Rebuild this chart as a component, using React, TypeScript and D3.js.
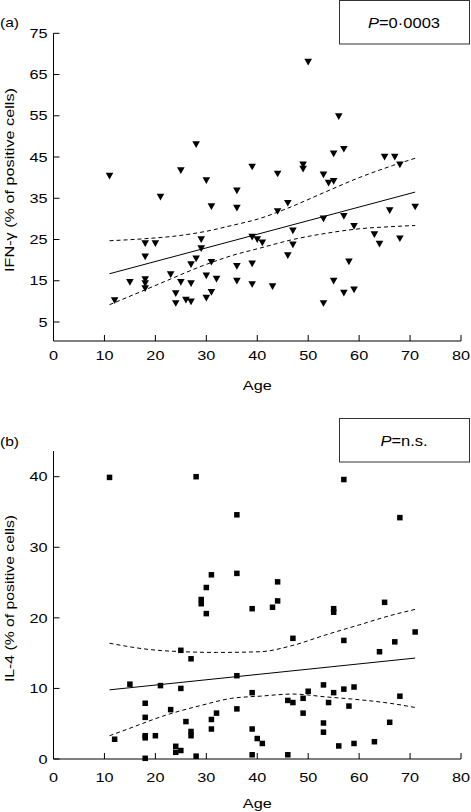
import React from "react";
import * as d3 from "d3";

// ---- Data ----
const xTicks = [0, 10, 20, 30, 40, 50, 60, 70, 80];
const ifnTicks = [5, 15, 25, 35, 45, 55, 65, 75];
const il4Ticks = [0, 10, 20, 30, 40];

// Panel (a): IFN-γ vs age
const ifnAge = [11, 12, 15, 18, 18, 18, 18, 18, 20, 21, 23, 24, 24, 25, 25, 26, 27, 27, 27, 28, 28, 29, 29, 30, 30, 30, 31, 31, 31, 32, 36, 36, 36, 36, 39, 39, 39, 39, 40, 41, 43, 44, 44, 46, 46, 47, 47, 49, 49, 50, 53, 53, 53, 54, 55, 55, 55, 56, 57, 57, 57, 58, 59, 59, 63, 64, 65, 66, 67, 68, 68, 71];
const ifnVal = [40.4, 10.2, 14.6, 24.0, 20.8, 15.3, 14.3, 13.1, 24.0, 35.3, 16.5, 11.9, 9.5, 41.7, 14.6, 10.3, 18.9, 14.3, 9.9, 48.0, 20.3, 25.0, 22.8, 39.3, 16.2, 10.8, 33.0, 19.5, 12.2, 15.4, 36.8, 32.6, 18.5, 14.9, 42.6, 25.6, 19.1, 14.1, 25.0, 24.2, 13.6, 40.9, 31.8, 33.8, 21.1, 27.1, 23.7, 43.1, 42.1, 68.0, 40.7, 30.0, 9.5, 38.7, 39.1, 45.8, 14.9, 54.8, 46.9, 30.6, 12.0, 19.6, 28.2, 12.8, 26.2, 23.9, 45.0, 32.0, 45.0, 43.1, 25.2, 32.9];

const ifnFitAge = [11, 71];
const ifnFitVal = [16.7, 36.5];
const ifnUpAge = [11, 18, 25, 30, 35, 40.5, 46, 53.5, 60, 66.5, 71];
const ifnUpVal = [24.7, 25.2, 26.0, 27.0, 28.4, 30.1, 32.6, 36.6, 40.0, 42.9, 44.7];
const ifnLoAge = [11, 18, 22, 29, 35, 40.5, 47, 53.5, 60, 66, 71];
const ifnLoVal = [9.2, 12.8, 14.9, 18.5, 21.1, 22.9, 25.0, 26.5, 27.6, 28.1, 28.4];

// Panel (b): IL-4 vs age
const il4Age = [11, 12, 15, 18, 18, 18, 18, 18, 20, 21, 23, 24, 24, 25, 25, 25, 26, 27, 27, 27, 28, 28, 29, 29, 30, 30, 31, 31, 31, 32, 36, 36, 36, 36, 39, 39, 39, 39, 40, 41, 43, 44, 44, 46, 46, 47, 47, 49, 49, 50, 53, 53, 53, 54, 55, 55, 55, 56, 57, 57, 57, 58, 59, 59, 63, 64, 65, 66, 67, 68, 68, 71];
const il4Val = [39.9, 2.8, 10.6, 7.9, 5.9, 3.3, 3.0, 0.1, 3.3, 10.4, 7.0, 1.8, 0.95, 15.4, 10.0, 1.2, 5.3, 14.2, 3.9, 3.3, 40.0, 0.4, 22.6, 22.0, 24.3, 20.6, 26.1, 5.6, 4.25, 6.5, 34.6, 26.3, 11.8, 7.1, 21.3, 9.4, 4.25, 0.6, 2.9, 2.2, 21.5, 25.1, 22.4, 8.3, 0.6, 17.1, 8.0, 8.6, 6.5, 9.6, 10.5, 5.1, 3.8, 8.0, 21.3, 20.8, 9.4, 1.85, 39.6, 16.8, 9.9, 7.5, 10.2, 2.2, 2.45, 15.2, 22.2, 5.2, 16.6, 34.2, 8.9, 18.0];

const il4FitAge = [11, 71];
const il4FitVal = [9.8, 14.3];
const il4UpAge = [11, 19, 25.5, 32, 40.5, 47, 53.5, 60, 66, 71];
const il4UpVal = [16.4, 15.5, 15.2, 15.1, 15.2, 16.1, 17.6, 19.0, 20.3, 21.2];
const il4LoAge = [11, 14.4, 22, 29, 35, 40.5, 47, 53.5, 60, 66, 71];
const il4LoVal = [3.3, 4.2, 6.2, 7.6, 8.6, 8.9, 9.2, 8.8, 8.4, 7.9, 7.3];

// ---- Layout ----
const W = 471;
const H = 812;
const FONT = "'Liberation Sans', Arial, Helvetica, sans-serif";
const SX = 1.25;

const x = d3.scaleLinear().domain([0, 80]).range([53.5, 461]);
const yA = d3.scaleLinear().domain([5, 75]).range([322, 33.3]);
const yB = d3.scaleLinear().domain([0, 40]).range([759, 476.7]);

const zip = (a: number[], b: number[]) => a.map((v, i) => [v, b[i]] as [number, number]);

function T({ x: tx, y: ty, anchor = "middle", size = 13, sx = SX, dy, children, rotate }: any) {
  const tf = rotate
    ? `translate(${tx},${ty}) rotate(${rotate}) scale(${sx},1)`
    : `translate(${tx},${ty}) scale(${sx},1)`;
  return (
    <text transform={tf} textAnchor={anchor} fontSize={size} fontFamily={FONT} dy={dy} fill="#000">
      {children}
    </text>
  );
}

function Panel({ y, yTicks, axisTop, axisBottom, ages, vals, fit, up, lo, marker, yLabel, yLabelCenter, yLabelLen, xLabelY, xTickY, tag, tagY, pText, boxY }: any) {
  const line = d3
    .line<[number, number]>()
    .x((d) => x(d[0]))
    .y((d) => y(d[1]))
    .curve(d3.curveMonotoneX);
  const x0 = x(0);
  return (
    <g>
      {/* axes */}
      <line x1={x0} x2={x0} y1={axisTop} y2={axisBottom} stroke="#000" strokeWidth={1} />
      <line x1={x0} x2={x(80)} y1={axisBottom} y2={axisBottom} stroke="#000" strokeWidth={1} />
      {xTicks.map((t: number) => (
        <g key={"x" + t}>
          <line x1={x(t)} x2={x(t)} y1={axisBottom} y2={axisBottom - 6} stroke="#000" strokeWidth={1} />
          <T x={x(t)} y={xTickY}>{t}</T>
        </g>
      ))}
      {yTicks.map((t: number) => (
        <g key={"y" + t}>
          <line x1={x0} x2={x0 + 6} y1={y(t)} y2={y(t)} stroke="#000" strokeWidth={1} />
          <T x={47.5} y={y(t)} anchor="end" dy="0.36em">{t}</T>
        </g>
      ))}
      <T x={x(40)} y={xLabelY}>Age</T>
      <text
        transform={`translate(13.5,${yLabelCenter}) rotate(-90)`}
        textAnchor="middle"
        fontSize={13}
        fontFamily={FONT}
        textLength={yLabelLen}
        lengthAdjust="spacingAndGlyphs"
      >
        {yLabel}
      </text>
      <T x={0} y={tagY} anchor="start" sx={1.2}>{tag}</T>
      <rect x={339.5} y={boxY} width={130} height={43.5} fill="#fff" stroke="#333" strokeWidth={1} />
      <text transform={`translate(404,${boxY + 27.5}) scale(1.18,1)`} textAnchor="middle" fontSize={14} fontFamily={FONT}>
        <tspan fontStyle="italic">P</tspan>
        {pText}
      </text>
      {/* regression and CI */}
      <path d={line(fit) || ""} fill="none" stroke="#000" strokeWidth={1} />
      <path d={line(up) || ""} fill="none" stroke="#000" strokeWidth={1} strokeDasharray="4,3" />
      <path d={line(lo) || ""} fill="none" stroke="#000" strokeWidth={1} strokeDasharray="4,3" />
      {/* points */}
      {ages.map((a: number, i: number) =>
        marker === "tri" ? (
          <path key={i} transform={`translate(${x(a)},${y(vals[i])})`} d="M-3.8,-3.3L3.8,-3.3L0,3.4Z" fill="#000" />
        ) : (
          <rect key={i} x={x(a) - 2.75} y={y(vals[i]) - 2.75} width={5.5} height={5.5} fill="#000" />
        )
      )}
    </g>
  );
}

export default function App() {
  return (
    <svg width={W} height={H} viewBox={`0 0 ${W} ${H}`} style={{ position: "absolute", left: 0, top: 0, display: "block", background: "#fff" }}>
      <rect width={W} height={H} fill="#fff" />
      <Panel
        y={yA}
        yTicks={ifnTicks}
        axisTop={yA(75)}
        axisBottom={341}
        ages={ifnAge}
        vals={ifnVal}
        fit={zip(ifnFitAge, ifnFitVal)}
        up={zip(ifnUpAge, ifnUpVal)}
        lo={zip(ifnLoAge, ifnLoVal)}
        marker="tri"
        yLabel="IFN-γ (% of positive cells)"
        yLabelCenter={180}
        yLabelLen={184}
        xLabelY={389.5}
        xTickY={360}
        tag="(a)"
        tagY={26.5}
        pText="=0·0003"
        boxY={0.5}
      />
      <Panel
        y={yB}
        yTicks={il4Ticks}
        axisTop={451}
        axisBottom={759}
        ages={il4Age}
        vals={il4Val}
        fit={zip(il4FitAge, il4FitVal)}
        up={zip(il4UpAge, il4UpVal)}
        lo={zip(il4LoAge, il4LoVal)}
        marker="sq"
        yLabel="IL-4 (% of positive cells)"
        yLabelCenter={598.5}
        yLabelLen={167}
        xLabelY={807.5}
        xTickY={781.5}
        tag="(b)"
        tagY={445.5}
        pText="=n.s."
        boxY={418.5}
      />
    </svg>
  );
}
